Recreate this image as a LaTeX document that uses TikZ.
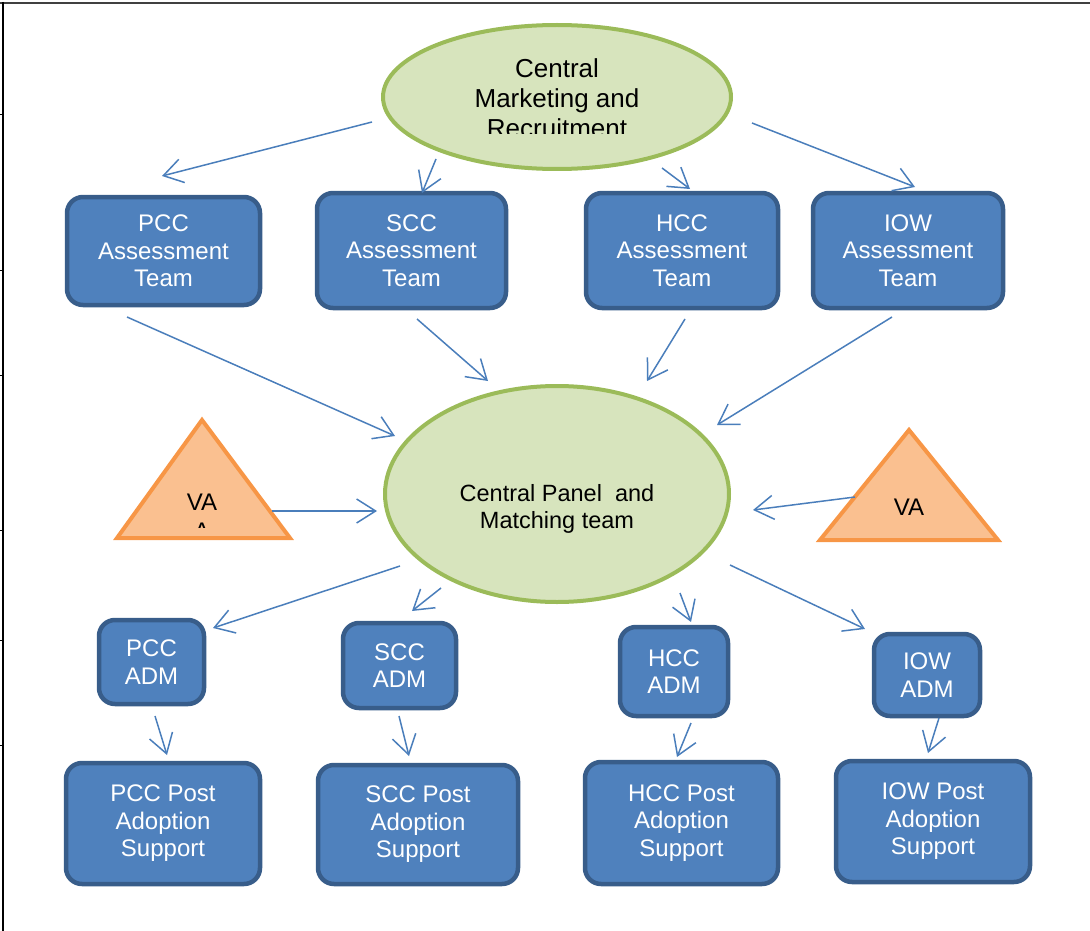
\documentclass[tikz,border=0pt]{standalone}
\usepackage{fontspec}
\setmainfont{Liberation Sans}
\usetikzlibrary{%
  arrows.meta,%
  shapes.geometric% wg. ellipse
}

\definecolor{boxfill}{HTML}{4F81BD}
\definecolor{boxline}{HTML}{385D8A}
\definecolor{ovalfill}{HTML}{D7E4BD}
\definecolor{ovalline}{HTML}{9BBB59}
\definecolor{vafill}{HTML}{FAC090}
\definecolor{valine}{HTML}{F79646}
\definecolor{flowcol}{HTML}{4A7EBB}

\begin{document}
\begin{tikzpicture}[
  x=1pt, y=-1pt,
  flow/.style={-{Straight Barb[length=19pt,width=24pt]}, draw=flowcol, line width=1.5pt},
  team/.style={rectangle, rounded corners=16pt, draw=boxline, fill=boxfill, line width=4.5pt,
    text=white, align=center, inner sep=0pt, font=\fontsize{24}{27.5}\selectfont},
  oval/.style={ellipse, draw=ovalline, fill=ovalfill, line width=4pt, inner sep=0pt},
  ovaltext/.style={align=center, inner sep=0pt},
  vatri/.style={draw=valine, fill=vafill, line width=4pt, line join=miter},
  vatext/.style={inner sep=0pt, font=\fontsize{24}{27.5}\selectfont}
]
\useasboundingbox (0,0) rectangle (1090,931);

% page frame
\draw[line width=2pt, black!75] (0,3) -- (1090,3);
\draw[line width=1.5pt] (3,2) -- (3,931);
\foreach \y in {115,270,375,530,640,745} {
    \draw[line width=1pt] (0,\y) -- (3,\y);
}

% marketing
\node[oval, minimum width=348pt, minimum height=144pt] (cmr) at (557,97) {};
\begin{scope}
  \clip (380,20) rectangle (735,133.5);
  \node[ovaltext, font=\fontsize{26}{30}\selectfont] (cmrtext) at (557,98.5) {Central\\Marketing and\\Recruitment};
\end{scope}

% assessment teams
\node[team, minimum width=193pt, minimum height=108pt] (pccA) at (163.5,251) {PCC\\Assessment\\Team};
\node[team, minimum width=189pt, minimum height=115pt] (sccA) at (411.5,250.5) {SCC\\Assessment\\Team};
\node[team, minimum width=192pt, minimum height=115pt] (hccA) at (682,250.5) {HCC\\Assessment\\Team};
\node[team, minimum width=190pt, minimum height=115pt] (iowA) at (908,250.5) {IOW\\Assessment\\Team};

% panel
\node[oval, minimum width=344pt, minimum height=216pt] (panel) at (557,494) {};
\node[ovaltext, font=\fontsize{23.5}{27}\selectfont] (paneltext) at (557,509) {Central Panel\ \ and\\Matching team};

% VA
\draw[vatri] (117,538) -- (202,420) -- (290,538) -- cycle;
\draw[vatri] (820,540) -- (909,430) -- (998,540) -- cycle;
\node[vatext] (vaL) at (202,502.5) {VA};
\node[vatext] (vaR) at (909,507.5) {VA};
\begin{scope}
  \clip (185,515) rectangle (220,527);
  \node[vatext, anchor=base] (vaLcut) at (202,539) {A};
\end{scope}

% ADM
\node[team, minimum width=105pt, minimum height=84pt] (pccAdm) at (151.5,662) {PCC\\ADM};
\node[team, minimum width=113pt, minimum height=85pt] (sccAdm) at (399.5,665.5) {SCC\\ADM};
\node[team, minimum width=108pt, minimum height=89pt] (hccAdm) at (674,671.5) {HCC\\ADM};
\node[team, minimum width=106pt, minimum height=82pt] (iowAdm) at (927,675) {IOW\\ADM};

% post adoption
\node[team, minimum width=194pt, minimum height=121pt] (pccPost) at (163,823.5) {PCC Post\\Adoption\\Support};
\node[team, minimum width=200pt, minimum height=119pt] (sccPost) at (418,824.5) {SCC Post\\Adoption\\Support};
\node[team, minimum width=193pt, minimum height=122pt] (hccPost) at (681.5,823) {HCC Post\\Adoption\\Support};
\node[team, minimum width=194pt, minimum height=121pt] (iowPost) at (933,821.5) {IOW Post\\Adoption\\Support};

% arrows
\draw[flow] ([shift={(-185,25)}]cmr.center) -- ([shift={(-1.5,-75)}]pccA.center);
\draw[flow] ([shift={(-121,62)}]cmr.center) -- ([shift={(10.5,-57.5)}]sccA.center);
\draw[flow] ([shift={(105,71)}]cmr.center) -- ([shift={(8,-61.5)}]hccA.center);
\draw[flow] ([shift={(195,26)}]cmr.center) -- ([shift={(7,-63.5)}]iowA.center);

\draw[flow] ([shift={(-36.5,66)}]pccA.center) -- ([shift={(-162,-58)}]panel.center);
\draw[flow] ([shift={(5.5,68.5)}]sccA.center) -- ([shift={(-69,-113)}]panel.center);
\draw[flow] ([shift={(3,68.5)}]hccA.center) -- ([shift={(90,-113)}]panel.center);
\draw[flow] ([shift={(-16,66.5)}]iowA.center) -- ([shift={(160,-69)}]panel.center);

\draw[flow] ([shift={(70,8.5)}]vaL.center) -- ([shift={(-180,17)}]panel.center);
\draw[flow] ([shift={(-54,-10.5)}]vaR.center) -- ([shift={(196,16)}]panel.center);

\draw[flow] ([shift={(-157,72)}]panel.center) -- ([shift={(61.5,-34)}]pccAdm.center);
\draw[flow] ([shift={(-116,94)}]panel.center) -- ([shift={(12.5,-54.5)}]sccAdm.center);
\draw[flow] ([shift={(123,99)}]panel.center) -- ([shift={(17,-49.5)}]hccAdm.center);
\draw[flow] ([shift={(173,71)}]panel.center) -- ([shift={(-62,-46)}]iowAdm.center);

\draw[flow] ([shift={(3.5,54)}]pccAdm.center) -- ([shift={(4,-68.5)}]pccPost.center);
\draw[flow] ([shift={(-0.5,50.5)}]sccAdm.center) -- ([shift={(-9,-68.5)}]sccPost.center);
\draw[flow] ([shift={(17,51.5)}]hccAdm.center) -- ([shift={(-4.5,-66)}]hccPost.center);
\draw[flow] ([shift={(12,43)}]iowAdm.center) -- ([shift={(-5,-68.5)}]iowPost.center);
\end{tikzpicture}
\end{document}
